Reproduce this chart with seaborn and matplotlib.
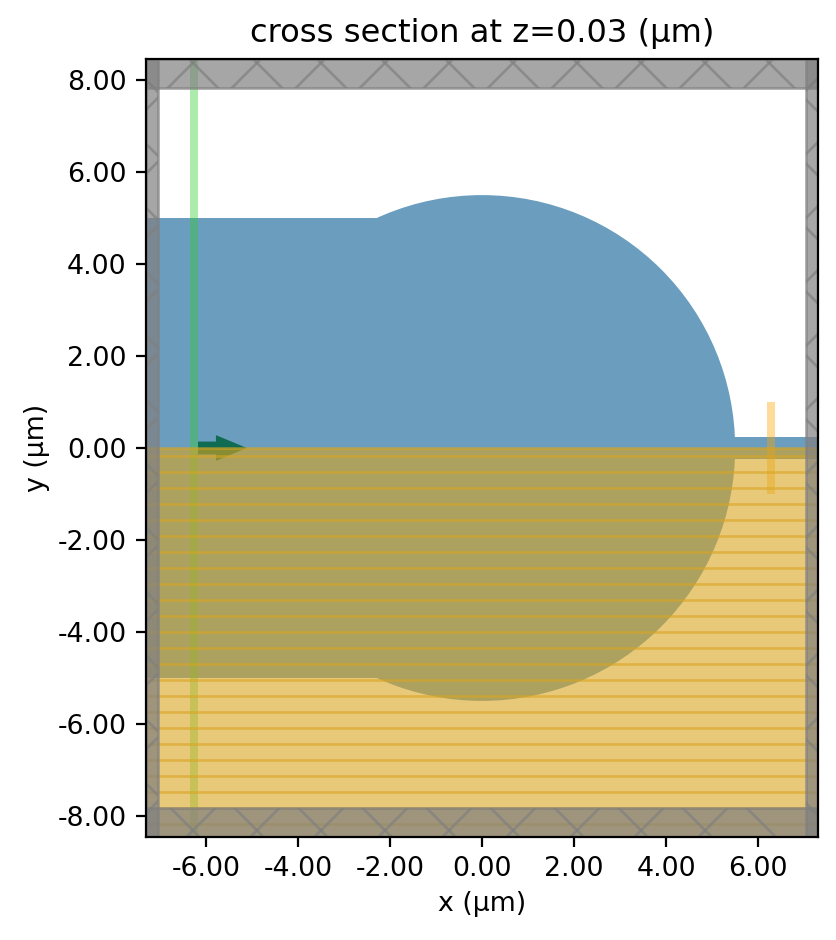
"""
Simulation cross section: disc with input/output waveguides, source, monitor,
symmetry region and PML layers.
"""

import numpy as np
import pandas as pd
import matplotlib
matplotlib.use("Agg")
import matplotlib.pyplot as plt
from matplotlib.patches import Circle, Polygon, Rectangle
import seaborn as sns

# Geometry, in um
X_LIM = (-7.3, 7.3)
Y_LIM = (-8.46, 8.46)
DISC_RADIUS = 5.5
WG_IN_HALF = 5.0
WG_OUT_HALF = 0.25
PML_X = 7.05
PML_Y = 7.83
SOURCE_X = (-6.35, -6.17)
MONITOR_X = (6.2, 6.37)
MONITOR_Y = (-1.0, 1.0)
ARROW_X = [-6.17, -5.78, -5.11]
ARROW_SHAFT = 0.14
ARROW_HEAD = 0.28

# Hatch layout
SYM_LINE_STEP = 0.348
SYM_LINE_FIRST = -0.174
PML_STEP = 1.391
PML_CROSS = (-6.28, 8.376)

X_TICKS = [-6, -4, -2, 0, 2, 4, 6]
Y_TICKS = [-8, -6, -4, -2, 0, 2, 4, 6, 8]
X_LABELS = ["-6.00", "-4.00", "-2.00", "0.00", "2.00", "4.00", "6.00"]
Y_LABELS = ["-8.00", "-6.00", "-4.00", "-2.00", "0.00", "2.00", "4.00", "6.00", "8.00"]

BLUE = "#6a9dbe"
SOURCE = "limegreen"
ARROW = "#006341"
MONITOR = "orange"
SYMMETRY = "goldenrod"
PML = "gray"


def hatch_lines(ax, segments, clip, color, alpha, zorder):
    """Draw hatch segments with seaborn, clipped to one patch."""
    rows = []
    for i, (x0, y0, x1, y1) in enumerate(segments):
        rows.append({"line": i, "x": x0, "y": y0})
        rows.append({"line": i, "x": x1, "y": y1})
    df = pd.DataFrame(rows)
    before = len(ax.lines)
    sns.lineplot(
        data=df, x="x", y="y", units="line", estimator=None, sort=False,
        color=color, alpha=alpha, linewidth=0.96, ax=ax, legend=False,
        solid_capstyle="butt", zorder=zorder,
    )
    for line in ax.lines[before:]:
        line.set_clip_path(clip)


sns.set_theme(style="ticks", rc={
    "font.family": "DejaVu Sans",
    "font.size": 9.65,
    "axes.labelsize": 9.65,
    "axes.titlesize": 11.55,
    "xtick.labelsize": 9.65,
    "ytick.labelsize": 9.65,
    "axes.linewidth": 0.8,
    "axes.edgecolor": "black",
    "xtick.color": "black",
    "ytick.color": "black",
    "text.color": "black",
    "axes.labelcolor": "black",
    "xtick.major.size": 3.5,
    "ytick.major.size": 3.5,
    "xtick.major.width": 0.8,
    "ytick.major.width": 0.8,
})

fig = plt.figure(figsize=(837 / 200, 940 / 200), dpi=200)
ax = fig.add_axes([146 / 837, 1 - 837 / 940, 672 / 837, 778 / 940])

# Structures
ax.add_patch(Rectangle((X_LIM[0], -WG_IN_HALF), -X_LIM[0], 2 * WG_IN_HALF,
                       facecolor=BLUE, edgecolor="none", zorder=1))
ax.add_patch(Rectangle((0, -WG_OUT_HALF), X_LIM[1], 2 * WG_OUT_HALF,
                       facecolor=BLUE, edgecolor="none", zorder=1))
ax.add_patch(Circle((0, 0), DISC_RADIUS, facecolor=BLUE, edgecolor="none", zorder=1))

# Source plane and its direction arrow
ax.add_patch(Rectangle((SOURCE_X[0], Y_LIM[0]), SOURCE_X[1] - SOURCE_X[0],
                       Y_LIM[1] - Y_LIM[0], facecolor=SOURCE, edgecolor="none",
                       alpha=0.4, zorder=2))
ax.add_patch(Polygon(
    [(ARROW_X[0], ARROW_SHAFT), (ARROW_X[1], ARROW_SHAFT), (ARROW_X[1], ARROW_HEAD),
     (ARROW_X[2], 0), (ARROW_X[1], -ARROW_HEAD), (ARROW_X[1], -ARROW_SHAFT),
     (ARROW_X[0], -ARROW_SHAFT)],
    closed=True, facecolor=ARROW, edgecolor="none", alpha=0.85, zorder=2.1))

# Monitor
ax.add_patch(Rectangle((MONITOR_X[0], MONITOR_Y[0]), MONITOR_X[1] - MONITOR_X[0],
                       MONITOR_Y[1] - MONITOR_Y[0], facecolor=MONITOR,
                       edgecolor="none", alpha=0.4, zorder=2.2))

# Symmetry region, lower half
sym = Rectangle((X_LIM[0] - 1, Y_LIM[0] - 1), X_LIM[1] - X_LIM[0] + 2, -Y_LIM[0] + 1,
                facecolor=SYMMETRY, edgecolor=SYMMETRY, linewidth=0.96,
                alpha=0.6, zorder=3)
ax.add_patch(sym)
levels = np.arange(SYM_LINE_FIRST, Y_LIM[0], -SYM_LINE_STEP)
hatch_lines(ax, [(X_LIM[0], y, X_LIM[1], y) for y in levels], sym, SYMMETRY, 0.6, 3.1)

# PML layers, each with its own X hatch
pml_rects = [
    (X_LIM[0], PML_Y, X_LIM[1] - X_LIM[0], Y_LIM[1] - PML_Y),
    (X_LIM[0], Y_LIM[0], X_LIM[1] - X_LIM[0], -PML_Y - Y_LIM[0]),
    (X_LIM[0], Y_LIM[0], -PML_X - X_LIM[0], Y_LIM[1] - Y_LIM[0]),
    (PML_X, Y_LIM[0], X_LIM[1] - PML_X, Y_LIM[1] - Y_LIM[0]),
]
offsets = np.arange(-20, 21) * PML_STEP
span = 20.0
cross_segments = []
for off in offsets:
    # falling and rising diagonals through the hatch lattice
    c_fall = PML_CROSS[0] + PML_CROSS[1] + off
    c_rise = PML_CROSS[1] - PML_CROSS[0] + off
    cross_segments.append((-span, c_fall + span, span, c_fall - span))
    cross_segments.append((-span, c_rise - span, span, c_rise + span))

for x0, y0, w, h in pml_rects:
    rect = Rectangle((x0, y0), w, h, facecolor=PML, edgecolor=PML, linewidth=0.96,
                     alpha=0.7, zorder=4)
    ax.add_patch(rect)
    hatch_lines(ax, cross_segments, rect, PML, 0.7, 4.1)

ax.set_xlim(*X_LIM)
ax.set_ylim(*Y_LIM)
ax.set_xticks(X_TICKS)
ax.set_xticklabels(X_LABELS)
ax.set_yticks(Y_TICKS)
ax.set_yticklabels(Y_LABELS)
ax.set_xlabel("x (μm)", labelpad=3.2)
ax.set_ylabel("y (μm)", labelpad=2.5)
ax.set_title("cross section at z=0.03 (μm)", pad=6.2)
for spine in ax.spines.values():
    spine.set_zorder(10)

fig.savefig("out.png", dpi=200)
